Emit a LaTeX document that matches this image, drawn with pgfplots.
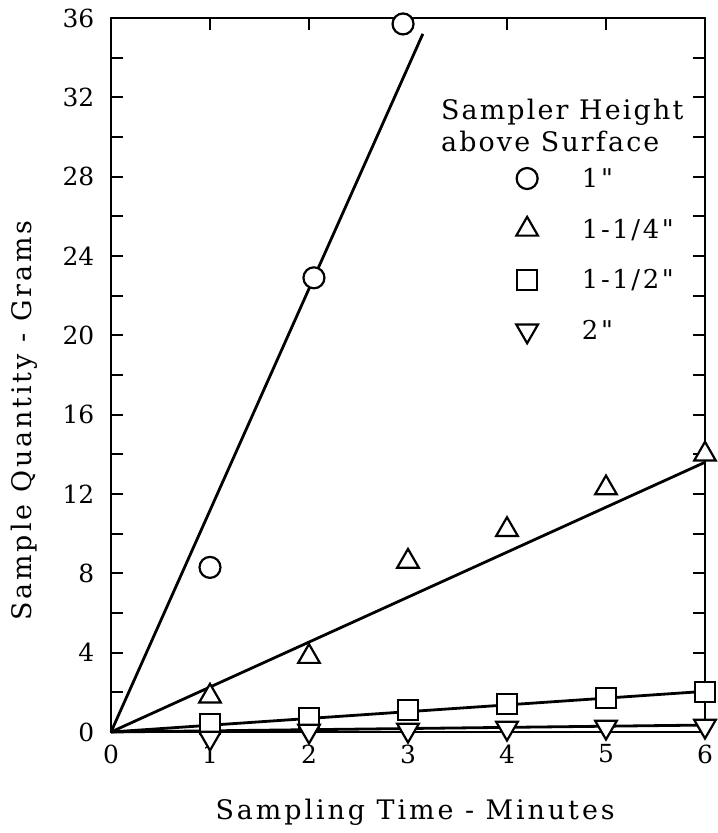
\documentclass[border=0pt]{standalone}
\usepackage{fontspec}
\setmainfont{DejaVu Serif}[LetterSpace=11]
\newfontfamily\tickfont{DejaVu Serif}
\newfontfamily\titlefont{DejaVu Serif}[LetterSpace=8]
\newfontfamily\legfont{DejaVu Serif}[LetterSpace=10]
\usepackage{pgfplots}
\pgfplotsset{compat=1.18}

\begin{document}
\begin{tikzpicture}
\begin{axis}[
    scale only axis,
    width=594bp, height=714bp,
    xmin=0, xmax=6, ymin=0, ymax=36,
    xtick={0,...,6},
    ytick={0,4,...,36},
    minor ytick={2,6,...,34},
    xtick pos=upper, xticklabel pos=lower,
    tick align=inside,
    major tick length=12bp, minor tick length=12bp,
    line width=2.8bp,
    axis line style={line width=2.8bp},
    every tick/.style={black, line width=2.2bp},
    tick label style={font=\fontsize{25}{30}\tickfont},
    /pgf/number format/assume math mode=true,
    xticklabel style={yshift=-8bp},
    yticklabel style={xshift=-12bp},
    xlabel={Sampling Time - Minutes},
    ylabel={Sample Quantity - Grams},
    label style={font=\fontsize{27}{32}\selectfont},
    xlabel style={at={(axis description cs:0.512,-0.113)}, anchor=center},
    ylabel style={at={(axis description cs:-0.146,0.436)}, anchor=center},
    clip=false,
    legend cell align=left,
    legend style={draw=none, fill=none, at={(axis cs:4.08,28.6)}, anchor=north west,
        font=\fontsize{26}{30}\legfont, row sep=26bp, column sep=42bp, inner sep=0pt},
]
    % fitted lines
    \addplot[black, line width=2.8bp, forget plot] coordinates {(0,0) (3.15,35.2)};
    \addplot[black, line width=2.8bp, forget plot] coordinates {(0,0) (6,13.6)};
    \addplot[black, line width=2.8bp, forget plot] coordinates {(0,0) (6,2.05)};
    \addplot[black, line width=2.8bp, forget plot] coordinates {(0,0) (6,0.35)};

    % 1 inch
    \addplot[only marks, mark=*, mark size=10.5bp,
        mark options={draw=black, fill=white, line width=2.2bp}] coordinates {
        (1,8.3) (2.05,22.9) (2.95,35.7)
    };
    \addlegendentry{1"}

    % 1-1/4 inch
    \addplot[only marks, mark=triangle*, mark size=12.5bp,
        mark options={draw=black, fill=white, line width=2.2bp}] coordinates {
        (1,1.8) (2,3.8) (3,8.6) (4,10.2) (5,12.3) (6,14.0)
    };
    \addlegendentry{1-1/4"}

    % 1-1/2 inch
    \addplot[only marks, mark=square*, mark size=10bp,
        mark options={draw=black, fill=white, line width=2.2bp}] coordinates {
        (1,0.4) (2,0.7) (3,1.1) (4,1.4) (5,1.7) (6,2.0)
    };
    \addlegendentry{1-1/2"}

    % 2 inch
    \addplot[only marks, mark=triangle*, mark size=12.5bp,
        mark options={draw=black, fill=white, line width=2.2bp, rotate=180}] coordinates {
        (1,-0.3) (2,0.05) (3,0.1) (4,0.2) (5,0.25) (6,0.3)
    };
    \addlegendentry{2"}

    \node[anchor=north west, align=left, inner sep=0pt,
        font=\fontsize{27}{32}\titlefont] at (axis cs:3.32,32.0)
        {Sampler Height\\above Surface};
\end{axis}
\pgfresetboundingbox
\useasboundingbox (current axis.south west) ++(-111bp,-101bp) rectangle ++(718bp,833bp);
\end{tikzpicture}
\end{document}
